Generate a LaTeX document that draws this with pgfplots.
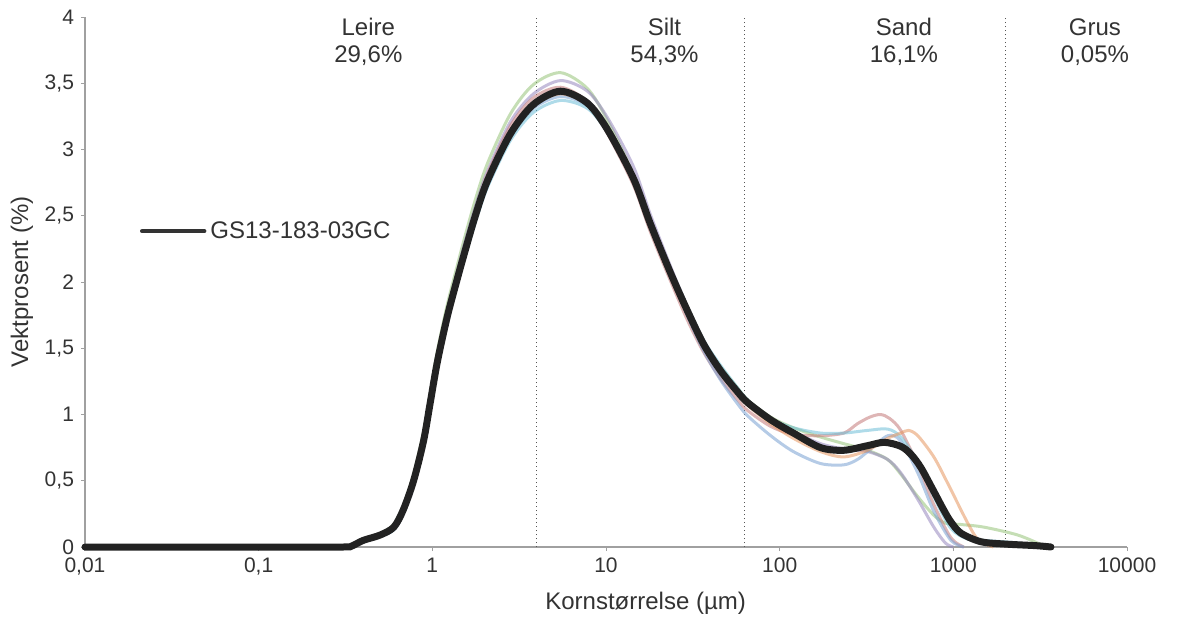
\documentclass[border=0pt]{standalone}
\usepackage{fontspec}
\setmainfont{Liberation Sans}
\usepackage{pgfplots}
\pgfplotsset{compat=1.18}
\definecolor{txt}{HTML}{333333}
\definecolor{axcol}{HTML}{A0A0A0}
\definecolor{dotcol}{HTML}{555555}
\definecolor{blk}{HTML}{222222}
\definecolor{legline}{HTML}{333333}
\definecolor{cgreen}{RGB}{150,195,120}
\definecolor{cpurple}{RGB}{150,135,190}
\definecolor{cred}{RGB}{195,120,120}
\definecolor{cblue}{RGB}{120,160,210}
\definecolor{ccyan}{RGB}{110,190,215}
\definecolor{corange}{RGB}{230,150,95}
\begin{document}
\begin{tikzpicture}
\begin{axis}[
  at={(0,0)}, anchor=south west,
  scale only axis, width=521pt, height=265pt,
  xmode=log, xmin=0.01, xmax=10000, ymin=0, ymax=4,
  axis x line*=bottom, axis y line*=left,
  axis line style={draw=axcol, line width=0.6pt, -},
  xtick={0.01,0.1,1,10,100,1000,10000},
  xticklabels={{0,01},{0,1},1,10,100,1000,10000},
  xminorticks=false,
  ytick={0,0.5,1,1.5,2,2.5,3,3.5,4},
  yticklabel style={/pgf/number format/.cd, use comma, fixed},
  /pgf/number format/assume math mode=true,
  tick align=outside, major tick length=2pt,
  tick style={draw=axcol, line width=0.5pt},
  tick label style={font=\fontsize{10.5}{12}\selectfont, text=txt},
  xlabel={Kornstørrelse (µm)}, ylabel={Vektprosent (\%)},
  label style={font=\fontsize{12}{14}\selectfont, text=txt},
  xlabel style={at={(axis description cs:0.538,-0.0717)}, anchor=north},
  ylabel style={at={(axis description cs:-0.0605,0.5)}, anchor=center},
  clip=false,
  legend style={at={(axis description cs:0.0528,0.596)}, anchor=west, draw=none, fill=none,
    font=\fontsize{12}{14}\selectfont, text=txt, inner sep=0pt, outer sep=0pt},
  legend image code/.code={\draw[line width=2.2pt, draw=legline] (0pt,0pt) -- (31pt,0pt);},
]
% boundaries
\addplot[forget plot, draw=dotcol, line width=0.6pt, dash pattern=on 0.6pt off 1.4pt] coordinates {(4,0) (4,4)};
\addplot[forget plot, draw=dotcol, line width=0.6pt, dash pattern=on 0.6pt off 1.4pt] coordinates {(63,0) (63,4)};
\addplot[forget plot, draw=dotcol, line width=0.6pt, dash pattern=on 0.6pt off 1.4pt] coordinates {(2000,0) (2000,4)};

% individual samples
\addplot[forget plot, smooth, draw=cgreen, line width=1.5pt, opacity=0.55] coordinates {
(0.3,0) (0.34,0.01) (0.4,0.06) (0.5,0.10) (0.6,0.17) (0.68,0.31) (0.78,0.55) (0.89,0.87) (0.97,1.15) (1.07,1.48) (1.22,1.83) (1.39,2.12) (1.51,2.30) (1.75,2.60) (2.07,2.89) (2.82,3.27) (3.82,3.49) (5.47,3.58) (7.82,3.46) (10.2,3.22) (14.4,2.81) (18,2.46) (23.5,2.08) (29.5,1.79) (36.5,1.55) (45.7,1.36) (57.3,1.20) (65.4,1.11) (88.8,0.98) (120,0.90) (172,0.83) (234,0.78) (321,0.73) (419,0.66) (498,0.55) (624,0.38) (772,0.24) (900,0.18) (1100,0.17) (1500,0.15) (2355,0.09) (3300,0.01)};
\addplot[forget plot, smooth, draw=cpurple, line width=1.5pt, opacity=0.55] coordinates {
(0.3,0) (0.34,0.005) (0.4,0.05) (0.5,0.09) (0.6,0.15) (0.68,0.28) (0.78,0.51) (0.89,0.82) (0.97,1.11) (1.07,1.44) (1.22,1.79) (1.39,2.08) (1.51,2.26) (1.75,2.55) (2.07,2.83) (2.82,3.21) (3.82,3.42) (5.47,3.52) (7.82,3.44) (10.2,3.24) (14.4,2.87) (18,2.51) (23.5,2.12) (29.5,1.81) (36.5,1.56) (45.7,1.35) (57.3,1.19) (65.4,1.10) (88.8,0.97) (120,0.87) (172,0.78) (234,0.74) (321,0.72) (419,0.66) (498,0.56) (624,0.36) (772,0.15) (900,0.03) (1000,0)};
\addplot[forget plot, smooth, draw=cred, line width=1.5pt, opacity=0.55] coordinates {
(0.3,0) (0.34,0.005) (0.4,0.05) (0.5,0.09) (0.6,0.15) (0.68,0.28) (0.78,0.50) (0.89,0.80) (0.97,1.09) (1.07,1.41) (1.22,1.76) (1.39,2.05) (1.51,2.23) (1.75,2.52) (2.07,2.81) (2.82,3.18) (3.82,3.39) (5.47,3.47) (7.82,3.36) (10.2,3.12) (14.4,2.73) (18,2.38) (23.5,2.01) (29.5,1.71) (36.5,1.47) (45.7,1.27) (57.3,1.11) (65.4,1.03) (88.8,0.91) (120,0.85) (172,0.84) (234,0.86) (280,0.93) (330,0.98) (380,1.00) (430,0.97) (498,0.88) (624,0.62) (772,0.32) (968,0.07) (1150,0)};
\addplot[forget plot, smooth, draw=cblue, line width=1.5pt, opacity=0.55] coordinates {
(0.3,0) (0.34,0.01) (0.4,0.05) (0.5,0.08) (0.6,0.13) (0.68,0.25) (0.78,0.46) (0.89,0.75) (0.97,1.02) (1.07,1.35) (1.22,1.69) (1.39,1.98) (1.51,2.15) (1.75,2.44) (2.07,2.72) (2.82,3.09) (3.82,3.31) (5.47,3.40) (7.82,3.33) (10.2,3.14) (14.4,2.78) (18,2.44) (23.5,2.05) (29.5,1.74) (36.5,1.48) (45.7,1.26) (57.3,1.08) (65.4,0.99) (88.8,0.84) (120,0.72) (172,0.63) (234,0.62) (280,0.66) (321,0.72) (419,0.84) (498,0.80) (624,0.56) (772,0.27) (968,0.05) (1150,0)};
\addplot[forget plot, smooth, draw=ccyan, line width=1.5pt, opacity=0.55] coordinates {
(0.3,0) (0.34,0.005) (0.4,0.04) (0.5,0.08) (0.6,0.13) (0.68,0.25) (0.78,0.47) (0.89,0.76) (0.97,1.03) (1.07,1.36) (1.22,1.70) (1.39,1.98) (1.51,2.15) (1.75,2.43) (2.07,2.71) (2.82,3.07) (3.82,3.28) (5.47,3.37) (7.82,3.31) (10.2,3.13) (14.4,2.79) (18,2.46) (23.5,2.10) (29.5,1.81) (36.5,1.56) (45.7,1.37) (57.3,1.20) (65.4,1.11) (88.8,0.97) (120,0.90) (172,0.86) (234,0.86) (321,0.88) (419,0.89) (498,0.83) (624,0.64) (772,0.38) (968,0.14) (1211,0.06) (1500,0.05) (2355,0.03) (3300,0)};
\addplot[forget plot, smooth, draw=corange, line width=1.5pt, opacity=0.55] coordinates {
(0.3,0) (0.34,0.005) (0.4,0.05) (0.5,0.09) (0.6,0.15) (0.68,0.27) (0.78,0.49) (0.89,0.79) (0.97,1.07) (1.07,1.39) (1.22,1.73) (1.39,2.01) (1.51,2.18) (1.75,2.47) (2.07,2.75) (2.82,3.12) (3.82,3.33) (5.47,3.42) (7.82,3.34) (10.2,3.14) (14.4,2.77) (18,2.43) (23.5,2.06) (29.5,1.77) (36.5,1.52) (45.7,1.32) (57.3,1.16) (65.4,1.07) (88.8,0.93) (120,0.82) (172,0.72) (234,0.68) (321,0.73) (419,0.82) (498,0.86) (552,0.88) (624,0.84) (772,0.68) (929,0.48) (1211,0.18) (1400,0.05) (1700,0)};

% mean curve
\addplot[smooth, draw=blk, line width=3.5pt, line cap=round, line join=round] coordinates {
(0.01,0) (0.1,0) (0.3,0) (0.34,0.005) (0.40,0.05) (0.5,0.09) (0.6,0.15) (0.68,0.28) (0.78,0.50) (0.89,0.80) (0.97,1.08) (1.07,1.40) (1.22,1.74) (1.39,2.02) (1.51,2.19) (1.75,2.48) (2.07,2.76) (2.82,3.12) (3.82,3.34) (5.47,3.44) (7.82,3.35) (10.2,3.15) (14.4,2.78) (18,2.44) (23.5,2.07) (29.5,1.78) (36.5,1.53) (45.7,1.33) (57.3,1.17) (65.4,1.09) (88.8,0.96) (120,0.86) (172,0.75) (234,0.73) (321,0.765) (400,0.79) (498,0.76) (570,0.70) (650,0.60) (772,0.42) (880,0.28) (968,0.19) (1105,0.105) (1440,0.04) (2000,0.022) (3000,0.01) (3647,0)};
\addlegendentry{GS13-183-03GC}

\node[align=center, font=\fontsize{12}{13.5}\selectfont, text=txt] at (axis cs:0.428,3.81) {Leire\\29,6\%};
\node[align=center, font=\fontsize{12}{13.5}\selectfont, text=txt] at (axis cs:21.7,3.81) {Silt\\54,3\%};
\node[align=center, font=\fontsize{12}{13.5}\selectfont, text=txt] at (axis cs:519,3.81) {Sand\\16,1\%};
\node[align=center, font=\fontsize{12}{13.5}\selectfont, text=txt] at (axis cs:6540,3.81) {Grus\\0,05\%};
\end{axis}
\pgfresetboundingbox
\path (-42.5pt,-35pt) rectangle (546pt,273.5pt);
\end{tikzpicture}
\end{document}
